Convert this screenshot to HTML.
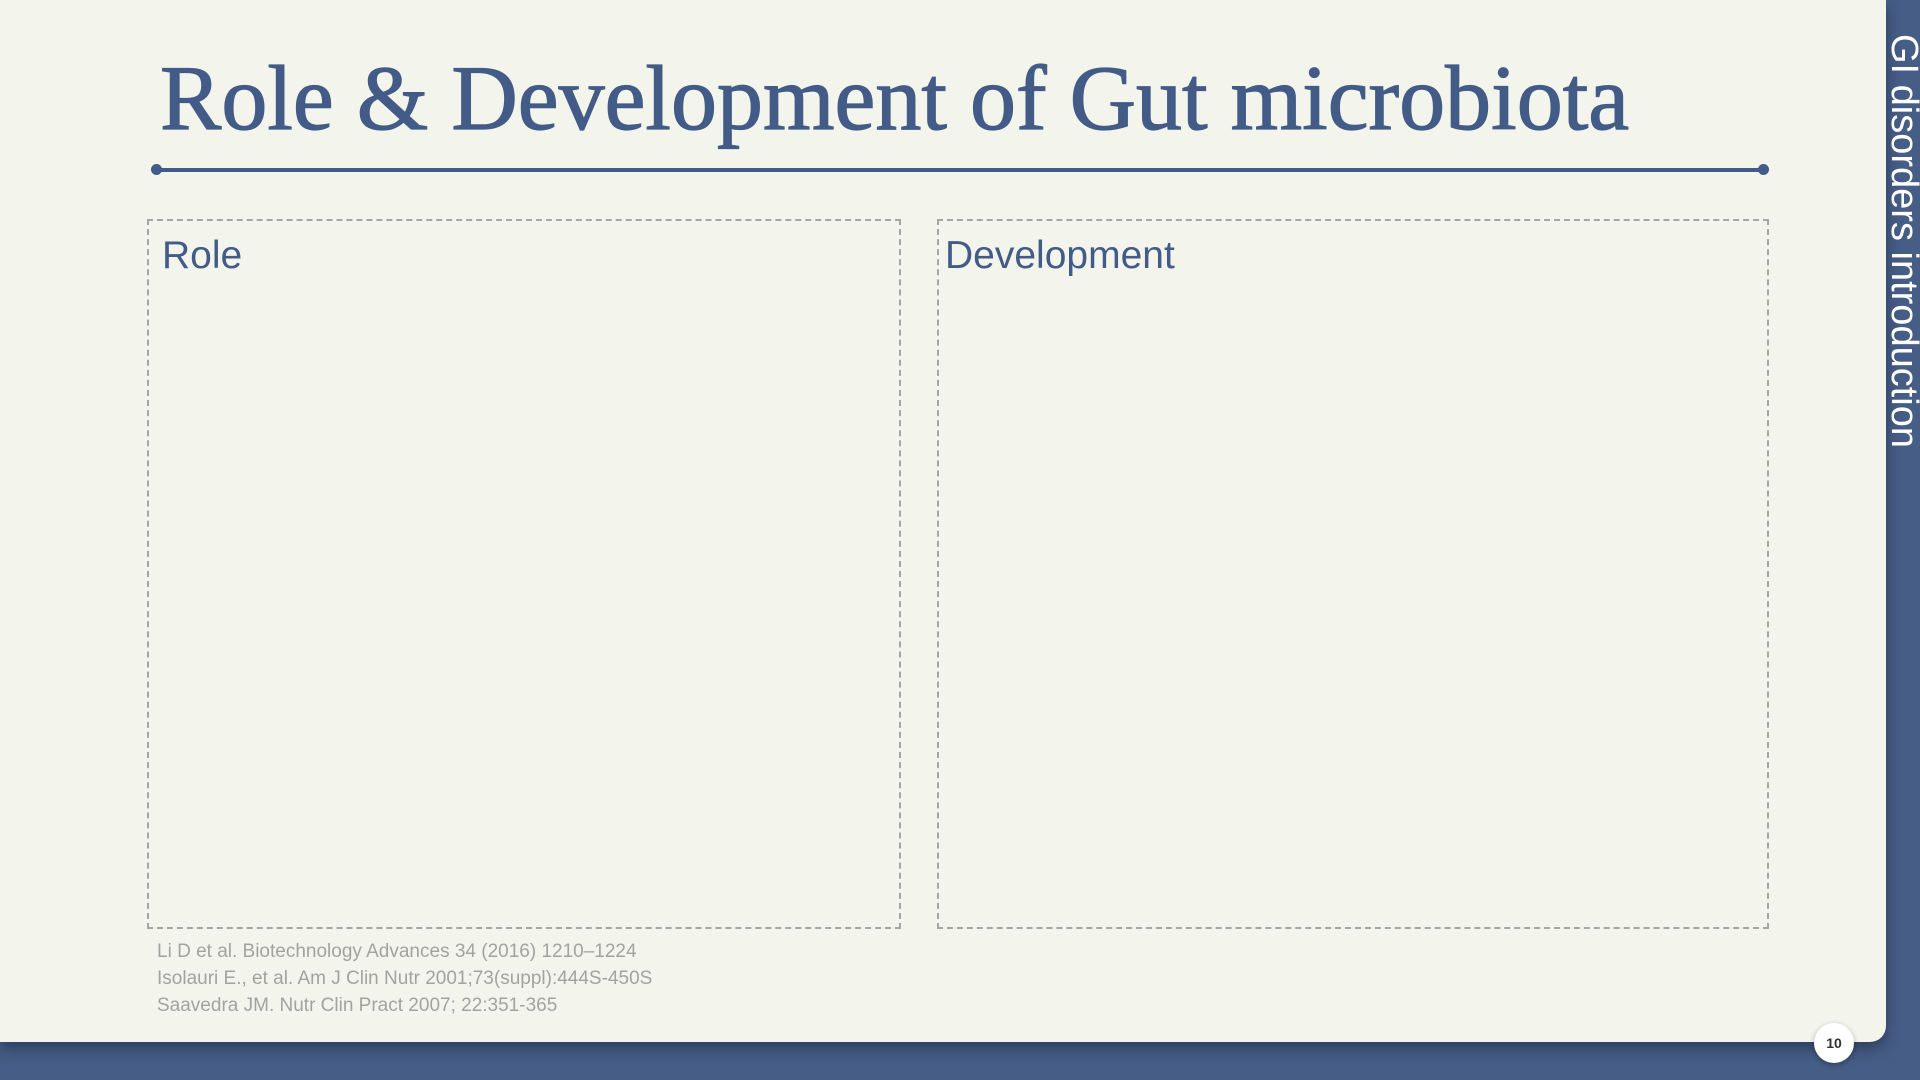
<!DOCTYPE html>
<html><head><meta charset="utf-8"><style>
body{margin:0;width:1920px;height:1080px;background:#465d86;position:relative;overflow:hidden;font-family:"Liberation Sans",sans-serif}
.card{position:absolute;left:0;top:0;width:1886px;height:1042px;background:#f3f5ec;border-radius:0 0 16px 0;box-shadow:0 6px 14px rgba(20,30,50,.5)}
.title{position:absolute;left:160px;top:52px;font-family:"Liberation Serif",serif;font-size:92px;color:#435b87;white-space:nowrap;line-height:1;-webkit-text-stroke:1.2px #435b87}
.rule{position:absolute;left:156px;top:168px;width:1607px;height:4px;background:#435b87}
.dot{position:absolute;width:11px;height:11px;border-radius:50%;background:#435b87;top:164px}
.box{position:absolute;border:2.5px dashed #a4a6a0;box-sizing:border-box}
.box span{position:absolute;left:13px;top:13px;font-size:39px;color:#435b87}
.refs{position:absolute;left:157px;top:938px;font-size:19px;color:#a2a39f;line-height:27px}
.side{position:absolute;left:1924px;top:34px;transform-origin:0 0;transform:rotate(90deg);font-size:38px;color:#fff;white-space:nowrap;line-height:40px}
.pg{position:absolute;left:1814px;top:1023px;width:40px;height:40px;border-radius:50%;background:#fff;box-shadow:0 2px 6px rgba(0,0,0,.3);font-weight:bold;font-size:14px;color:#333;text-align:center;line-height:40px}
</style></head><body>
<div class="card">
<div class="title">Role &amp; Development of Gut microbiota</div>
<div class="rule"></div>
<div class="dot" style="left:151px"></div>
<div class="dot" style="left:1758px"></div>
<div class="box" style="left:147px;top:219px;width:754px;height:710px"><span>Role</span></div>
<div class="box" style="left:937px;top:219px;width:832px;height:710px"><span style="left:6px">Development</span></div>
<div class="refs">Li D et al. Biotechnology Advances 34 (2016) 1210–1224<br>Isolauri E., et al. Am J Clin Nutr 2001;73(suppl):444S-450S<br>Saavedra JM. Nutr Clin Pract 2007; 22:351-365</div>
</div>
<div class="side">GI disorders introduction</div>
<div class="pg">10</div>
</body></html>
